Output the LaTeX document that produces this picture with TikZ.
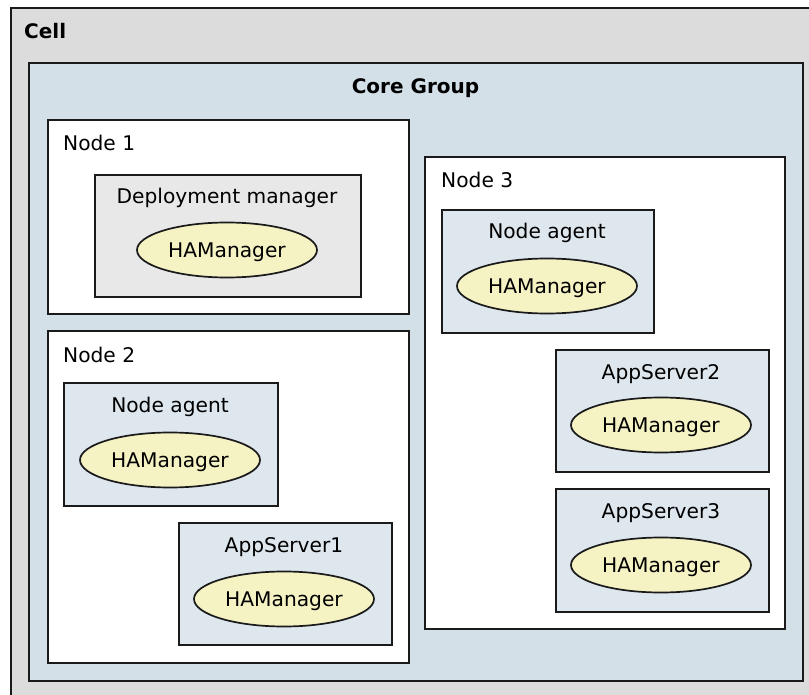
\documentclass[tikz,border=0pt]{standalone}
\usepackage{fontspec}
\setmainfont{DejaVu Sans}
\usetikzlibrary{shapes.geometric}
\definecolor{cellgray}{HTML}{DCDCDC}
\definecolor{coreblue}{HTML}{D3E0E8}
\definecolor{procblue}{HTML}{DEE7EE}
\definecolor{dmgray}{HTML}{E8E8E8}
\definecolor{hayellow}{HTML}{F5F2C4}
\definecolor{edgeink}{HTML}{1A1A1A}
\begin{document}
\begin{tikzpicture}[x=1pt,y=-1pt,
  frame/.style={draw=edgeink, line width=1.9pt, rectangle, inner sep=0pt, anchor=north west},
  txt/.style={font=\fontsize{20.2}{24}\selectfont, inner sep=0pt, text=black},
  btxt/.style={font=\fontsize{20}{24}\selectfont\bfseries, inner sep=0pt, text=black},
  ham/.style={ellipse, draw=edgeink, line width=1.7pt, fill=hayellow, minimum width=180pt,
    minimum height=55pt, inner sep=0pt, text depth=0pt, font=\fontsize{20.2}{24}\selectfont, text=black}]
\useasboundingbox (0,0) rectangle (809,695);
\clip (0,0) rectangle (809,695);
\fill[white] (0,0) rectangle (809,695);
% Cell
\node[frame, fill=cellgray, minimum width=805pt, minimum height=693pt] (cell) at (10,7) {};
\node[btxt, anchor=base west] (celllbl) at (24,39) {Cell};
% Core group
\node[frame, fill=coreblue, minimum width=774pt, minimum height=618pt] (core) at (28,62) {};
\node[btxt, anchor=base] (corelbl) at (415.5,93.5) {Core Group};
% Node 1
\node[frame, fill=white, minimum width=361pt, minimum height=194pt] (n1) at (47,119) {};
\node[txt, anchor=base west] (n1lbl) at (63,151) {Node 1};
\node[frame, fill=dmgray, minimum width=266pt, minimum height=122pt] (dm) at (94,174) {};
\node[txt, anchor=base] (dmlbl) at (227,204) {Deployment manager};
\node[ham] (dmha) at (227,250) {HAManager};
% Node 2
\node[frame, fill=white, minimum width=361pt, minimum height=332pt] (n2) at (47,330) {};
\node[txt, anchor=base west] (n2lbl) at (63,362) {Node 2};
\node[frame, fill=procblue, minimum width=214pt, minimum height=123pt] (na2) at (63,382) {};
\node[txt, anchor=base] (na2lbl) at (170,412) {Node agent};
\node[ham] (na2ha) at (170,460) {HAManager};
\node[frame, fill=procblue, minimum width=213pt, minimum height=122pt] (as1) at (178,522) {};
\node[txt, anchor=base] (as1lbl) at (284,552) {AppServer1};
\node[ham] (as1ha) at (284,599) {HAManager};
% Node 3
\node[frame, fill=white, minimum width=360pt, minimum height=472pt] (n3) at (424,156) {};
\node[txt, anchor=base west] (n3lbl) at (441,188) {Node 3};
\node[frame, fill=procblue, minimum width=212pt, minimum height=123pt] (na3) at (441,209) {};
\node[txt, anchor=base] (na3lbl) at (547,239) {Node agent};
\node[ham] (na3ha) at (547,286) {HAManager};
\node[frame, fill=procblue, minimum width=213pt, minimum height=122pt] (as2) at (555,349) {};
\node[txt, anchor=base] (as2lbl) at (661,379) {AppServer2};
\node[ham] (as2ha) at (661,425) {HAManager};
\node[frame, fill=procblue, minimum width=213pt, minimum height=123pt] (as3) at (555,488) {};
\node[txt, anchor=base] (as3lbl) at (661,518) {AppServer3};
\node[ham] (as3ha) at (661,565) {HAManager};
\end{tikzpicture}
\end{document}
